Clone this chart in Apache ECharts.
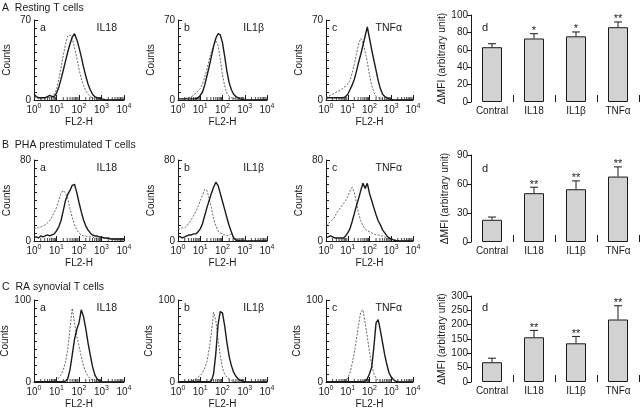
<!DOCTYPE html>
<html><head><meta charset="utf-8">
<script src="https://cdn.jsdelivr.net/npm/echarts@6/dist/echarts.min.js"></script>
<style>html,body{margin:0;padding:0;background:#fff}#c{width:640px;height:408px}</style>
</head><body><div id="c"></div>
<script>
// ---------- DATA ----------
const fl2 = [1, 1.26, 1.58, 2, 2.51, 3.16, 3.98, 5.01, 6.31, 7.94,
  10, 12.6, 15.8, 20, 25.1, 31.6, 39.8, 50.1, 63.1, 79.4,
  100, 126, 158, 200, 251, 316, 398, 501, 631, 794,
  1000, 1260, 1580, 2000, 2510, 3160, 3980, 5010, 6310, 7940, 10000];
const minorTicks = [2,3,4,5,6,7,8,9,20,30,40,50,60,70,80,90,200,300,400,500,600,700,800,900,2000,3000,4000,5000,6000,7000,8000,9000];
const xTickLabels = ['0','1','2','3','4'];
const rowTitles = ['A  Resting T cells', 'B  PHA prestimulated T cells', 'C  RA synovial T cells'];
const rowYMax = [70, 80, 100];
const cytokines = ['IL18', 'IL1β', 'TNFα'];
const panelLetters = ['a', 'b', 'c', 'd'];

// Row A histograms (dotted = control, solid = cytokine)
const aaDot = [2,2,1,1,1,1,2,2,3,5, 9,18,28,39,49,56,57,54,46,37, 27,19,13,8,5,3,2,1,0.5,0, 0,0,0,0,0,0,0,0,0,0, 0];
const aaSol = [5,3,2,2,2,2,3,4,3,3, 6,11,18,26,34,42,49,55,58,53, 46,38,29,21,14,9,5,3,2,1.5, 1,0.5,0,0,0,0,0,0,0,0, 0];
const abDot = [1,1,1,1,2,2,3,4,6,8, 10,14,20,27,35,42,48,52,48,36, 22,12,6,3,2,1,1,0.5,0,0, 0,0,0,0,0,0,0,0,0,0, 0];
const abSol = [1,1,1,1,1,1,1,1,1,2, 4,7,13,21,29,38,47,54,58,57, 50,38,25,15,9,5,3,2,1,0.5, 0,0,0,0,0,0,0,0,0,0, 0];
const acDot = [2,3,4,5,6,7,8,9,11,12, 14,17,23,31,40,49,54,50,42,33, 22,13,7,3,2,1,1,0.5,0,0, 0,0,0,0,0,0,0,0,0,0, 0];
const acSol = [1,2,2,2,2,2,2,2,2,3, 5,9,13,18,25,33,40,48,56,64, 54,44,35,26,17,10,5,3,2,1, 0.5,0,0,0,0,0,0,0,0,0, 0];
// Row B histograms
const baDot = [12,13,13,14,15,16,18,20,24,28, 33,40,47,50,47,42,32,23,16,11, 8,6,5,5,4,4,4,3,3,3, 3,3,3,2,2,2,2,2,2,2, 2];
const baSol = [4,4,3,5,4,5,6,5,6,7, 10,14,20,30,40,46,50,55,56,48, 38,29,21,15,11,8,6,5,5,4, 4,3,3,3,2,2,2,2,2,2, 2];
const bbDot = [12,12,13,13,15,18,21,25,29,34, 40,45,51,50,42,33,22,15,10,8, 7,6,5,6,7,4,2,1,0.5,0, 0,0,0,0,0,0,0,0,0,0, 0];
const bbSol = [5,4,3,4,5,6,6,7,7,9, 12,17,25,33,40,47,53,58,55,47, 39,31,23,15,9,3,1,0.5,0,0, 0,0,0,0,0,0,0,0,0,0, 0];
const bcDot = [15,17,19,21,24,28,31,34,37,40, 44,49,53,48,38,27,20,15,12,10, 9,8,7,6,6,5,5,4,3,3, 2,1,1,0.5,0,0,0,0,0,0, 0];
const bcSol = [3,4,5,4,3,3,3,3,3,5, 8,12,19,27,35,42,50,57,52,57, 47,40,33,26,20,16,11,8,5,3, 2,1,0.5,0,0,0,0,0,0,0, 0];
// Row C histograms
const caDot = [0.5,0.5,0.5,0.5,0.5,0.5,0.5,0.5,1,2, 3,5,9,15,24,40,65,90,72,56, 44,31,20,12,7,4,2,1,0.5,0, 0,0,0,0,0,0,0,0,0,0, 0];
const caSol = [0.5,0.5,0.5,0.5,0.5,0.5,0.5,0.5,0.5,0.5, 0.5,0.5,0.5,0.5,1,4,15,33,52,64, 72,88,80,65,48,33,19,9,4,1.5, 0.5,0,0,0,0,0,0,0,0,0, 0];
const cbDot = [0.5,0.5,0.5,0.5,0.5,1,1.5,2,4,6, 8,11,17,25,40,60,85,75,52,32, 17,9,6,4,2,1,0.5,0,0,0, 0,0,0,0,0,0,0,0,0,0, 0];
const cbSol = [0.5,0.5,0.5,0.5,0.5,0.5,0.5,0.5,0.5,0.5, 0.5,0.5,0.5,0.5,0.5,1,10,35,70,86, 84,68,48,31,20,12,7,4,2,1, 0.5,0,0,0,0,0,0,0,0,0, 0];
const ccDot = [0.5,0.5,0.5,0.5,0.5,0.5,0.5,0.5,1,2, 5,11,22,36,52,70,86,88,72,55, 37,21,10,5,2,1,0.5,0,0,0, 0,0,0,0,0,0,0,0,0,0, 0];
const ccSol = [0.5,0.5,0.5,0.5,0.5,0.5,0.5,0.5,0.5,0.5, 0.5,0.5,0.5,0.5,0.5,0.5,0.5,0.5,1,4, 10,18,42,72,76,63,48,33,21,11, 6,3,1,0.5,0,0,0,0,0,0, 0];

// Bar charts (ΔMFI)
const barCats = ['Contral', 'IL18', 'IL1β', 'TNFα'];
const barMeanA = [63, 73, 75.5, 86];
const barErrA  = [67, 78.5, 80.5, 92];
const barSigA  = ['', '*', '*', '**'];
const barMeanB = [23, 50.5, 54.6, 67.7];
const barErrB  = [25.8, 56.7, 63.2, 77.7];
const barSigB  = ['', '**', '**', '**'];
const barMeanC = [69, 156, 135, 218];
const barErrC  = [83, 180, 159, 266];
const barSigC  = ['', '**', '**', '**'];
const barYMax  = [100, 90, 300];
const barYStep = [20, 30, 50];

// ---------- LAYOUT / STYLE ----------
const FONT = 'Liberation Sans';
const INK = '#1a1a1a';
const colLeft = [34, 178, 326], colWidth = [90, 89, 87];
const rowTop = [20, 160, 300], rowHeight = [80, 81, 82];
const barLeft = 471, barW = 168, barTop = [15, 155, 296], barH = [87, 87, 86];

const histSets = [[aaDot, aaSol], [abDot, abSol], [acDot, acSol],
                  [baDot, baSol], [bbDot, bbSol], [bcDot, bcSol],
                  [caDot, caSol], [cbDot, cbSol], [ccDot, ccSol]];
const barSets = [[barMeanA, barErrA, barSigA], [barMeanB, barErrB, barSigB], [barMeanC, barErrC, barSigC]];

const grid = [], xAxis = [], yAxis = [], series = [], graphic = [];
const txt = (x, y, text, size, align) => ({type: 'text', x, y, style: {text, font: size + 'px ' + FONT, fill: INK, textAlign: align || 'left', textVerticalAlign: 'middle'}});

for (let r = 0; r < 3; r++) {
  graphic.push(txt(2, [8, 145, 287][r], rowTitles[r], 10.5));
  for (let c = 0; c < 3; c++) {
    const gi = r * 3 + c;
    grid.push({left: colLeft[c], top: rowTop[r], width: colWidth[c], height: rowHeight[r], containLabel: false, outerBoundsMode: 'none'});
    xAxis.push({
      type: 'log', logBase: 10, gridIndex: gi, min: 1, max: 10000, splitNumber: 4,
      axisLine: {lineStyle: {color: INK, width: 1}},
      axisTick: {inside: true, length: 5, lineStyle: {color: INK}},
      splitLine: {show: false},
      axisLabel: {color: INK, margin: 3,
        formatter: v => '{b|10}{s|' + xTickLabels[Math.round(Math.log10(v))] + '}',
        rich: {b: {fontFamily: FONT, fontSize: 10, lineHeight: 14, color: INK},
               s: {fontFamily: FONT, fontSize: 7, lineHeight: 14, verticalAlign: 'top', color: INK}}},
      name: 'FL2-H', nameLocation: 'middle', nameGap: 17,
      nameTextStyle: {fontFamily: FONT, fontSize: 10, color: INK}
    });
    yAxis.push({
      type: 'value', gridIndex: gi, min: 0, max: rowYMax[r], interval: rowYMax[r],
      axisLine: {show: true, lineStyle: {color: INK, width: 1}},
      axisTick: {show: true, inside: true, length: 4, lineStyle: {color: INK}},
      minorTick: {show: true, splitNumber: 10, length: 3, lineStyle: {color: INK}},
      splitLine: {show: false}, minorSplitLine: {show: false},
      axisLabel: {fontFamily: FONT, fontSize: 10, color: INK, margin: 3},
      name: 'Counts', nameLocation: 'middle', nameGap: 22, nameRotate: 90,
      nameTextStyle: {fontFamily: FONT, fontSize: 10, color: INK}
    });
    const [dot, sol] = histSets[gi];
    series.push({type: 'line', xAxisIndex: gi, yAxisIndex: gi, showSymbol: false, silent: true,
      data: fl2.map((x, k) => [x, dot[k]]), lineStyle: {color: '#555', width: 0.9, type: [2, 1.5]}});
    series.push({type: 'line', xAxisIndex: gi, yAxisIndex: gi, showSymbol: false, silent: true,
      data: fl2.map((x, k) => [x, sol[k]]), lineStyle: {color: INK, width: 1.4}});
    // logarithmic minor ticks on the FL2-H axis
    series.push({type: 'scatter', xAxisIndex: gi, yAxisIndex: gi, silent: true, clip: false,
      data: minorTicks.map(v => [v, 0]), symbol: 'rect', symbolSize: [1, 3], symbolOffset: [0, -1.5],
      itemStyle: {color: INK}});
    graphic.push(txt(colLeft[c] + 6, rowTop[r] + 8, panelLetters[c], 10.5));
    graphic.push(txt(colLeft[c] + colWidth[c] - [7, 3, 11][c], rowTop[r] + 8, cytokines[c], 10.5, 'right'));
  }
}

for (let r = 0; r < 3; r++) {
  const gi = 9 + r;
  const [mean, err, sig] = barSets[r];
  grid.push({left: barLeft, top: barTop[r], width: barW, height: barH[r], containLabel: false, outerBoundsMode: 'none'});
  xAxis.push({type: 'category', gridIndex: gi, data: barCats,
    axisLine: {show: false},
    axisTick: {show: true, inside: true, length: 7, alignWithLabel: false, interval: 0, lineStyle: {color: INK}},
    axisLabel: {fontFamily: FONT, fontSize: 10, color: INK, margin: 4, interval: 0}});
  yAxis.push({type: 'value', gridIndex: gi, min: 0, max: barYMax[r], interval: barYStep[r],
    axisLine: {show: true, lineStyle: {color: INK}},
    axisTick: {show: true, length: 4, lineStyle: {color: INK}},
    splitLine: {show: false},
    axisLabel: {fontFamily: FONT, fontSize: 10, color: INK, margin: 3},
    name: 'ΔMFI (arbitrary unit)', nameLocation: 'middle', nameGap: 21, nameRotate: 90,
    nameTextStyle: {fontFamily: FONT, fontSize: 10.3, color: INK}});
  series.push({type: 'bar', xAxisIndex: gi, yAxisIndex: gi, data: mean, barWidth: 20, silent: true,
    itemStyle: {color: '#d2d2d2', borderColor: INK, borderWidth: 1}});
  series.push({type: 'custom', xAxisIndex: gi, yAxisIndex: gi, silent: true, clip: false,
    data: mean.map((m, i) => [i, m, err[i]]),
    renderItem: (p, api) => {
      const i = api.value(0);
      const a = api.coord([i, api.value(1)]);
      const b = api.coord([i, api.value(2)]);
      const ch = [
        {type: 'line', shape: {x1: a[0], y1: a[1], x2: b[0], y2: b[1]}, style: {stroke: INK, lineWidth: 1}},
        {type: 'line', shape: {x1: b[0] - 4, y1: b[1], x2: b[0] + 4, y2: b[1]}, style: {stroke: INK, lineWidth: 1}}
      ];
      const s = sig[p.dataIndex];
      if (s) ch.push({type: 'text', x: b[0], y: b[1] + 3, style: {text: s, font: '11px ' + FONT, fill: INK, textAlign: 'center', textVerticalAlign: 'bottom'}});
      return {type: 'group', children: ch};
    }});
  graphic.push(txt(barLeft + 11, barTop[r] + [13, 14, 12][r], panelLetters[3], 11));
}

const chart = echarts.init(document.getElementById('c'), null, {renderer: 'canvas'});
chart.setOption({animation: false, backgroundColor: '#fff', grid, xAxis, yAxis, series, graphic});
</script></body></html>
